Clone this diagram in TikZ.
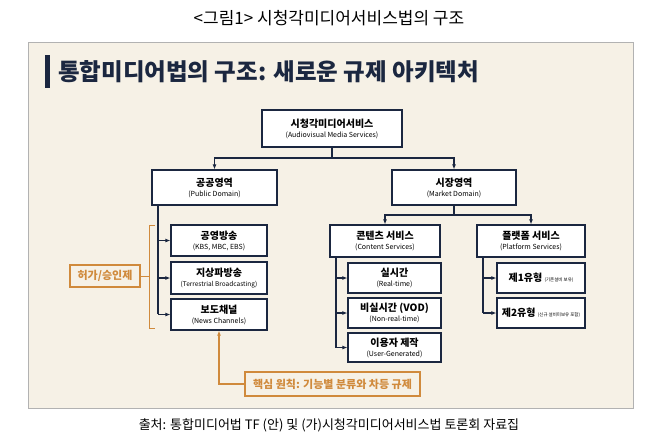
\documentclass[tikz,border=0pt]{standalone}
\usepackage{fontspec}
\setmainfont{Noto Sans CJK KR}
\usetikzlibrary{arrows.meta}
\definecolor{navy}{HTML}{1B2740}
\definecolor{org}{HTML}{D08A3C}
\definecolor{cream}{HTML}{F6F1E6}
\newcommand\subtx{\fontsize{7}{8}\selectfont\mdseries}
\begin{document}
\begin{tikzpicture}[x=1pt,y=-1pt,
  box/.style={draw=navy,line width=1.2pt,fill=white,align=center,inner sep=1pt,font=\fontsize{10}{11}\selectfont\bfseries},
  con/.style={draw=navy,line width=1.1pt,-{Latex[length=5pt,width=4pt]}},
  ln/.style={draw=navy,line width=1.1pt}]
\useasboundingbox (0,0) rectangle (658,445);
\fill[white] (0,0) rectangle (658,445);
\node (cap) at (329,18) {\fontsize{17}{18}\selectfont <그림1> 시청각미디어서비스법의 구조};
\draw[gray!60,fill=cream] (28,42) rectangle (633,408);
\fill[navy] (45,55) rectangle (50,88);
\node[anchor=west,text=navy,inner sep=0pt] (title) at (58,72) {\fontsize{23.5}{25}\selectfont\bfseries 통합미디어법의 구조: 새로운 규제 아키텍처};
\node (src) at (329,425) {\fontsize{13}{14}\selectfont 출처: 통합미디어법 TF (안) 및 (가)시청각미디어서비스법 토론회 자료집};

\node[box,minimum width=140,minimum height=37] (root) at (332,128.5) {시청각미디어서비스\\[-1pt]{\subtx (Audiovisual Media Services)}};
\node[box,minimum width=125,minimum height=35] (pub) at (214.5,187.5) {공공영역\\[-1pt]{\subtx (Public Domain)}};
\node[box,minimum width=124,minimum height=35] (mkt) at (454,187.5) {시장영역\\[-1pt]{\subtx (Market Domain)}};
\node[box,minimum width=96,minimum height=31] (p1) at (219,240.5) {공영방송\\[-1pt]{\subtx (KBS, MBC, EBS)}};
\node[box,minimum width=96,minimum height=32] (p2) at (219,278) {지상파방송\\[-1pt]{\fontsize{6.5}{7}\selectfont\mdseries (Terrestrial Broadcasting)}};
\node[box,minimum width=96,minimum height=31] (p3) at (219,314.5) {보도채널\\[-1pt]{\subtx (News Channels)}};
\node[box,minimum width=110,minimum height=32] (cs) at (385,241) {콘텐츠 서비스\\[-1pt]{\subtx (Content Services)}};
\node[box,minimum width=108,minimum height=32] (ps) at (531,241) {플랫폼 서비스\\[-1pt]{\subtx (Platform Services)}};
\node[box,minimum width=93,minimum height=30] (c1) at (394.5,278) {실시간\\[-1pt]{\subtx (Real-time)}};
\node[box,minimum width=93,minimum height=30] (c2) at (394.5,313) {비실시간 (VOD)\\[-1pt]{\subtx (Non-real-time)}};
\node[box,minimum width=93,minimum height=29] (c3) at (394.5,347.5) {이용자 제작\\[-1pt]{\subtx (User-Generated)}};
\node[box,minimum width=88,minimum height=30] (q1) at (541,278) {제1유형 {\fontsize{4.5}{5}\selectfont\mdseries (기존설비 보유)}};
\node[box,minimum width=88,minimum height=30] (q2) at (541,313) {제2유형 {\fontsize{4.5}{5}\selectfont\mdseries (신규 설비미보유 포함)}};

\coordinate (j1) at (332,158);
\draw[ln] (root.south) -- (j1);
\draw[con] (j1) -| (pub.north);
\draw[con] (j1) -| (mkt.north);
\coordinate (j2) at (454,215);
\draw[ln] (mkt.south) -- (j2);
\draw[con] (j2) -| (cs.north);
\draw[con] (j2) -| (ps.north);

\draw[ln] (158,205) -- (158,314);
\foreach \n in {p1,p2,p3} \draw[con] (158,0 |- \n.west) -- (\n.west);
\draw[ln] (336,257) -- (336,347.5);
\foreach \n in {c1,c2,c3} \draw[con] (336,0 |- \n.west) -- (\n.west);
\draw[ln] (483,257) -- (483,313);
\foreach \n in {q1,q2} \draw[con] (483,0 |- \n.west) -- (\n.west);

\node[draw=org,line width=1.1pt,fill=cream,text=org,font=\fontsize{11}{12}\selectfont\bfseries,minimum width=70,minimum height=22] (perm) at (105,276) {허가/승인제};
\draw[org,line width=0.9pt] (155,225) -- (149,225) -- (149,328) -- (155,328);
\draw[org,line width=0.9pt] (perm.east) -- (149,276);
\node[draw=org,line width=1.1pt,fill=cream,text=org,font=\fontsize{11}{12}\selectfont\bfseries,minimum width=175,minimum height=24] (core) at (332.5,384) {핵심 원칙: 기능별 분류와 차등 규제};
\draw[org,line width=1.1pt,-{Latex[length=5pt,width=4pt]}] (core.west) -| (p3.south);
\end{tikzpicture}
\end{document}
